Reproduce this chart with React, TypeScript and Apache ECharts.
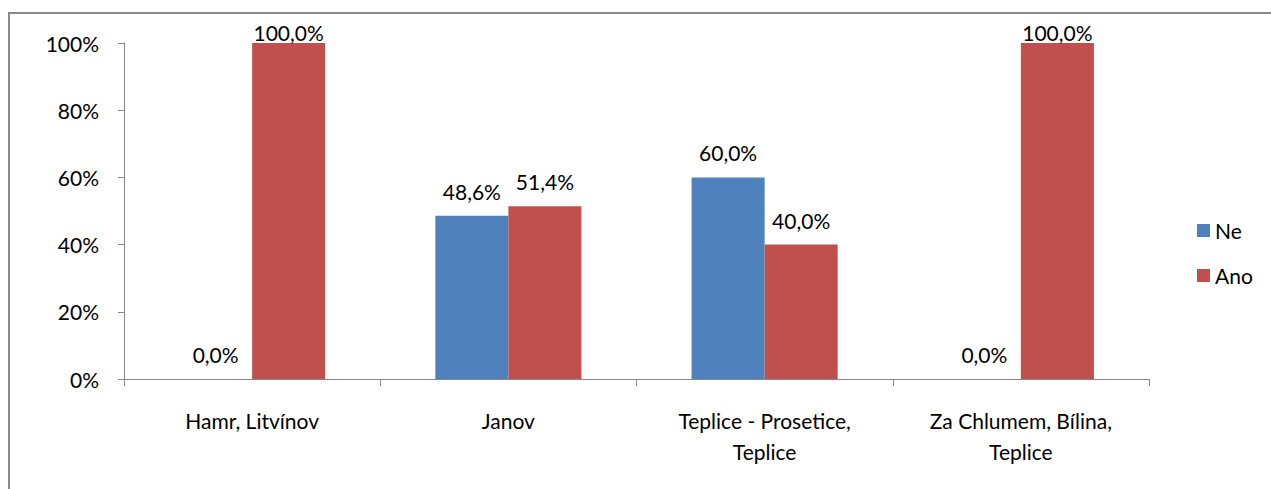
import React, { useEffect, useRef } from "react";
import * as echarts from "echarts";

const categories = [
  "Hamr, Litvínov",
  "Janov",
  "Teplice - Prosetice,\nTeplice",
  "Za Chlumem, Bílina,\nTeplice",
];
const seriesNames = ["Ne", "Ano"];
const neValues = [0, 48.6, 60, 0];
const anoValues = [100, 51.4, 40, 100];
const yTicks = [0, 20, 40, 60, 80, 100];

const FONT = "Lato, 'Open Sans', sans-serif";
const FS = 21;
const fmt = (v: number) => v.toFixed(1).replace(".", ",") + "%";

export default function App() {
  const ref = useRef<HTMLDivElement>(null);

  useEffect(() => {
    document.body.style.margin = "0";
    if (!ref.current) return;
    const chart = echarts.init(ref.current, undefined, { renderer: "svg" });

    const labelStyle = {
      show: true,
      position: "top" as const,
      distance: 14,
      fontFamily: FONT,
      fontSize: FS,
      color: "#000",
      formatter: (p: any) => fmt(p.value),
    };
    // values at the very top sit tight to the bar so they stay inside the frame
    const toData = (arr: number[]) =>
      arr.map((v) => (v >= 100 ? { value: v, label: { distance: 0 } } : v));

    chart.setOption({
      animation: false,
      backgroundColor: "#fff",
      grid: { left: 124, right: 122, top: 43, bottom: 110 },
      legend: {
        orient: "vertical",
        left: 1192,
        top: 215,
        itemWidth: 13,
        itemHeight: 13,
        itemGap: 24,
        icon: "rect",
        textStyle: { fontFamily: FONT, fontSize: FS, color: "#000" },
        data: seriesNames,
      },
      xAxis: {
        type: "category",
        data: categories,
        axisLine: { lineStyle: { color: "#888", width: 1 } },
        axisTick: { show: true, length: 7, lineStyle: { color: "#888" } },
        axisLabel: {
          fontFamily: FONT,
          fontSize: FS,
          color: "#000",
          margin: 26,
          lineHeight: 31,
          interval: 0,
        },
      },
      yAxis: {
        type: "value",
        min: yTicks[0],
        max: yTicks[yTicks.length - 1],
        interval: 20,
        splitLine: { show: false },
        axisLine: { show: true, lineStyle: { color: "#888", width: 1 } },
        axisTick: { show: true, length: 6, lineStyle: { color: "#888" } },
        axisLabel: {
          fontFamily: FONT,
          fontSize: FS,
          color: "#000",
          margin: 25,
          formatter: (v: number) => v + "%",
        },
      },
      series: [
        {
          name: seriesNames[0],
          type: "bar",
          data: toData(neValues),
          barGap: "0%",
          barCategoryGap: "43%",
          itemStyle: { color: "#4F81BD" },
          label: labelStyle,
        },
        {
          name: seriesNames[1],
          type: "bar",
          data: toData(anoValues),
          barGap: "0%",
          barCategoryGap: "43%",
          itemStyle: { color: "#C0504D" },
          label: labelStyle,
        },
      ],
      graphic: [
        {
          type: "polyline",
          shape: { points: [[1271, 13], [9, 13], [9, 489]] },
          style: { stroke: "#8a8a8a", lineWidth: 2, fill: "none" },
          silent: true,
        },
      ],
    });

    return () => chart.dispose();
  }, []);

  return <div ref={ref} style={{ width: 1271, height: 489 }} />;
}
